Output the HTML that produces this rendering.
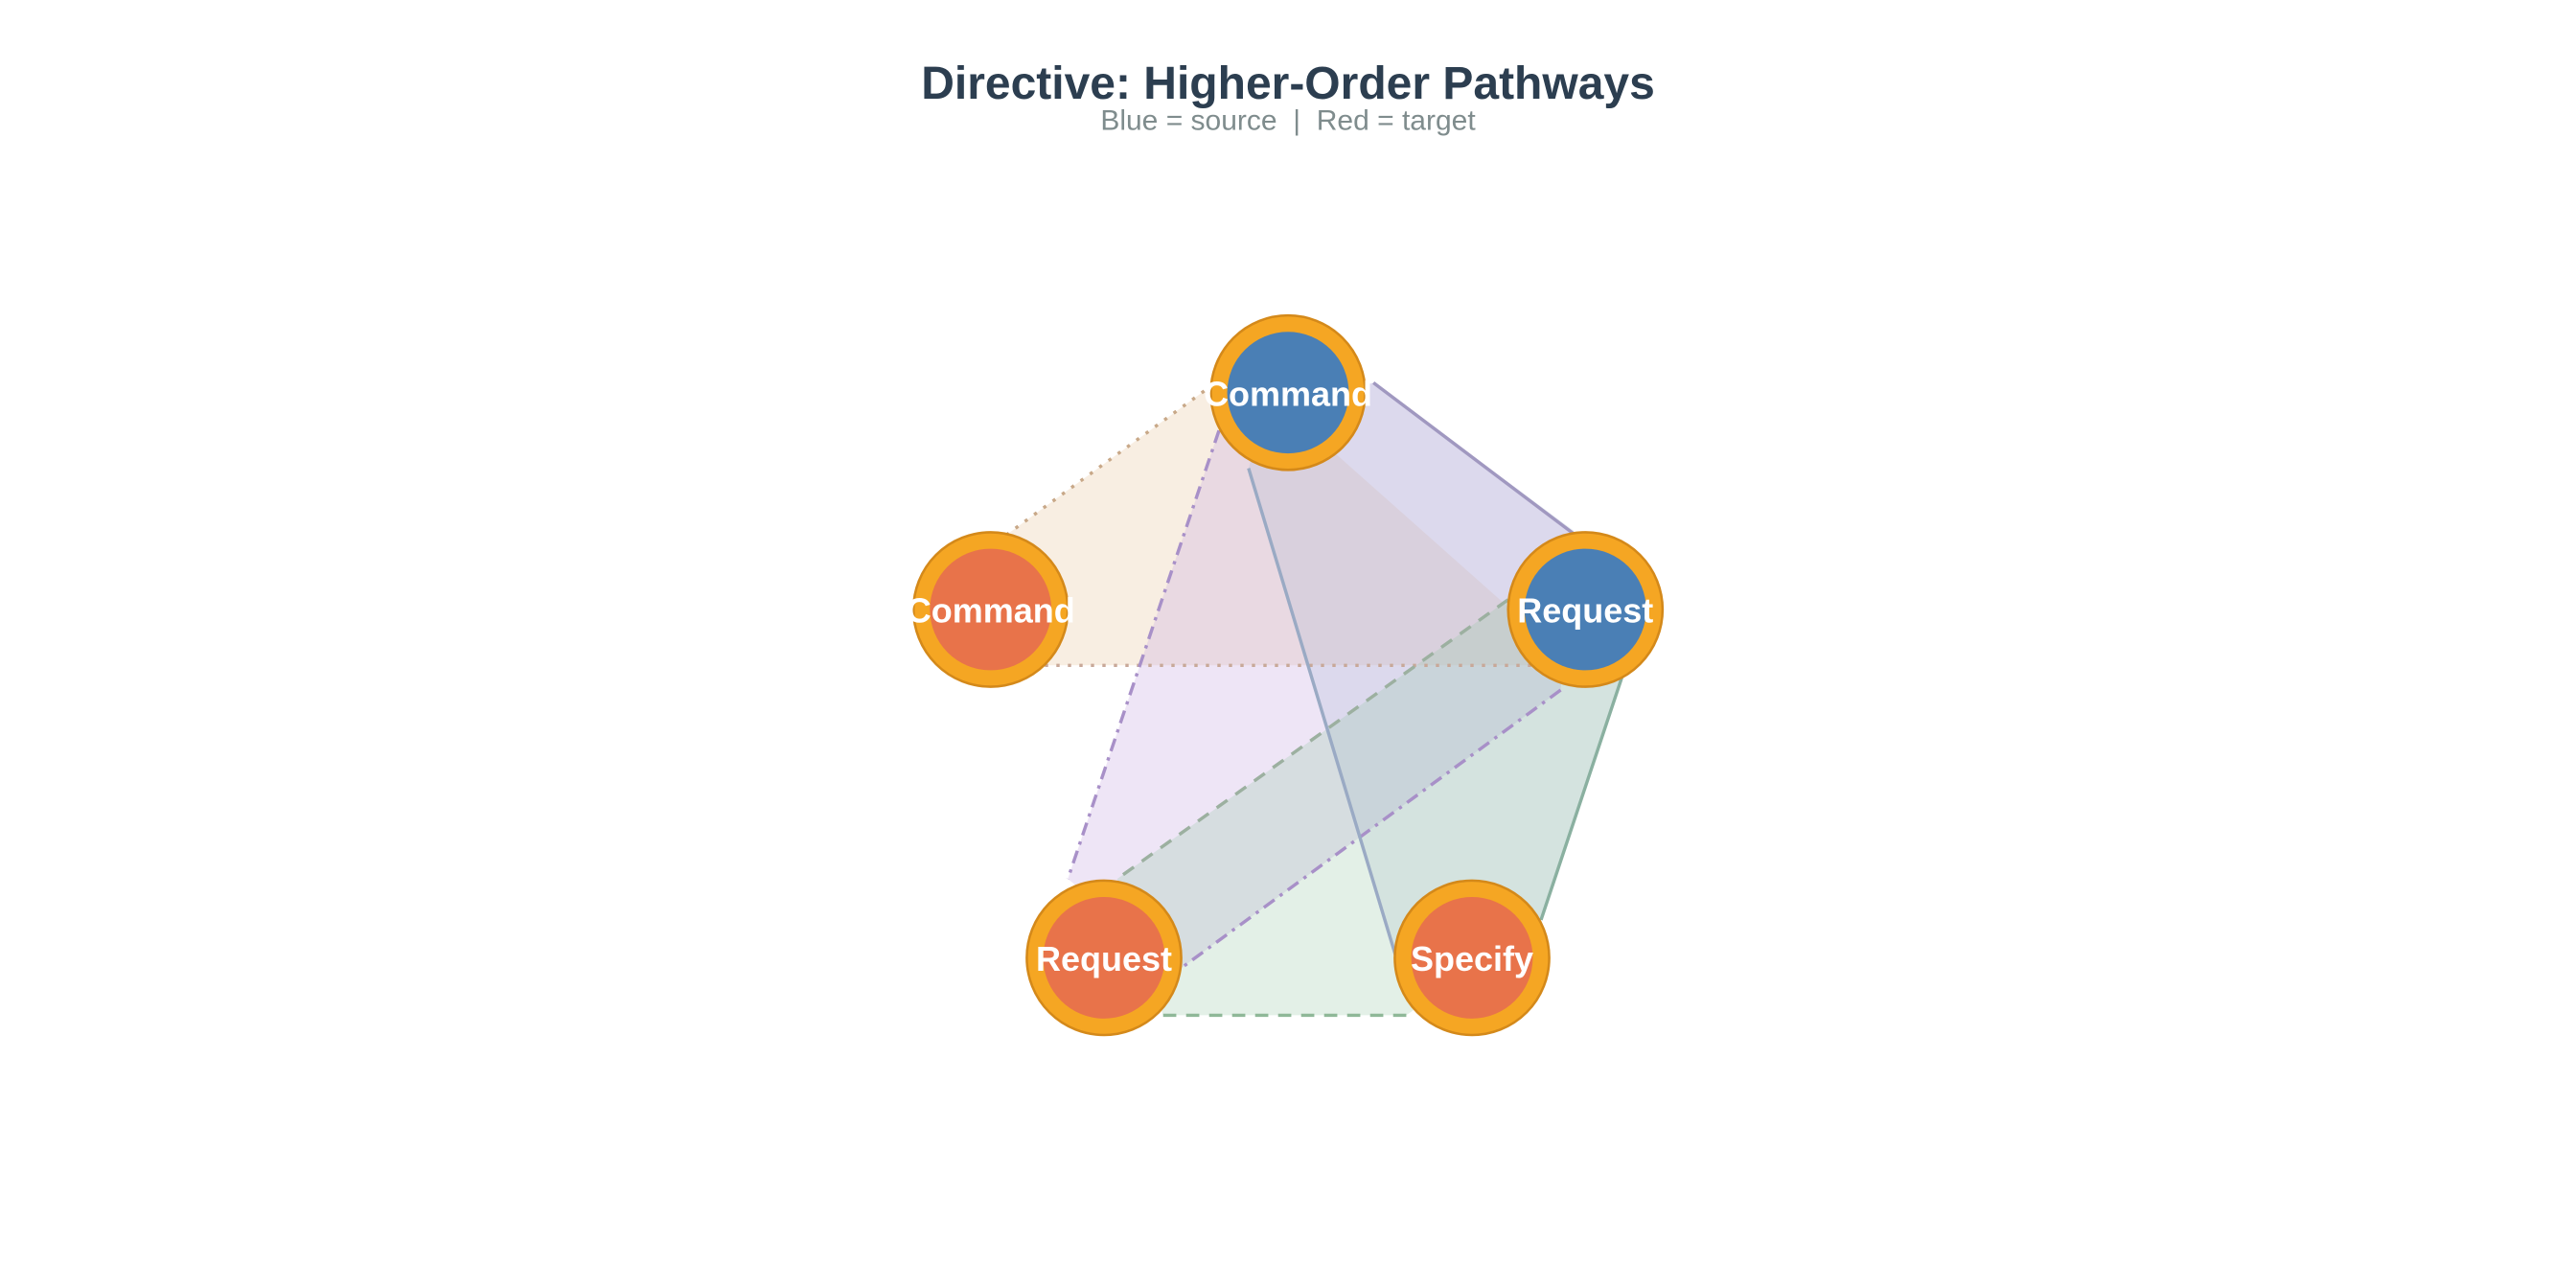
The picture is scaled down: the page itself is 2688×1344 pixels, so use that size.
<!DOCTYPE html>
<html><head><meta charset="utf-8"><style>
html,body{margin:0;padding:0;background:#fff;}
svg{display:block;}
</style></head><body>
<svg width="2688" height="1344" viewBox="0 0 1568 784" xmlns="http://www.w3.org/2000/svg" font-family="Liberation Sans, sans-serif">
<rect width="1568" height="784" fill="#fff"/>
<text x="784" y="60" text-anchor="middle" font-size="28" font-weight="bold" fill="#2c3e50">Directive: Higher-Order Pathways</text>
<text x="784" y="79" text-anchor="middle" font-size="17.5" fill="#7f8c8d" xml:space="preserve">Blue = source  |  Red = target</text>

<!-- fills -->
<polygon points="733,238 612,326 636,405 958,405 770,238" fill="#e8c8a0" fill-opacity="0.3"/>
<polygon points="742,262 650,535 718,590 950,420 958,325 836,233" fill="#c8a8e0" fill-opacity="0.3"/>
<polygon points="760,285 852,590 938,560 988,410 958,323 836,233 770,250" fill="#9fb0cc" fill-opacity="0.22"/>
<polygon points="918,365 680,535 708,618 856,618 938,560 988,410" fill="#9ccaa8" fill-opacity="0.28"/>

<!-- lines -->
<g fill="none" stroke-width="2">
<polyline points="733,238 612,326" stroke="#c8a888" stroke-dasharray="2,5"/>
<polyline points="636,405 958,405" stroke="#c8a898" stroke-dasharray="2,5"/>
<polyline points="742,262 650,535" stroke="#a890c8" stroke-dasharray="8,4,2,4"/>
<polyline points="950,420 718,590" stroke="#a890c8" stroke-dasharray="8,4,2,4"/>
<polyline points="836,233 958,325" stroke="#a098c0"/>
<polyline points="760,285 852,590" stroke="#9aaac4"/>
<polyline points="918,365 680,535" stroke="#9cb0a0" stroke-dasharray="8,6"/>
<polyline points="708,618 856,618" stroke="#8fb898" stroke-dasharray="8,6"/>
<polyline points="938,560 988,410" stroke="#8ab0a0"/>
</g>

<!-- nodes -->
<g stroke="#d4891a" stroke-width="1.5">
<circle cx="784" cy="239" r="47" fill="#f5a623"/>
<circle cx="603" cy="371" r="47" fill="#f5a623"/>
<circle cx="965" cy="371" r="47" fill="#f5a623"/>
<circle cx="672" cy="583" r="47" fill="#f5a623"/>
<circle cx="896" cy="583" r="47" fill="#f5a623"/>
</g>
<circle cx="784" cy="239" r="37" fill="#4a7fb5"/>
<circle cx="603" cy="371" r="37" fill="#e8734a"/>
<circle cx="965" cy="371" r="37" fill="#4a7fb5"/>
<circle cx="672" cy="583" r="37" fill="#e8734a"/>
<circle cx="896" cy="583" r="37" fill="#e8734a"/>
<g font-size="21" font-weight="bold" fill="#fff" text-anchor="middle">
<text x="784" y="247">Command</text>
<text x="603" y="379">Command</text>
<text x="965" y="379">Request</text>
<text x="672" y="591">Request</text>
<text x="896" y="591">Specify</text>
</g>
</svg>
</body></html>
